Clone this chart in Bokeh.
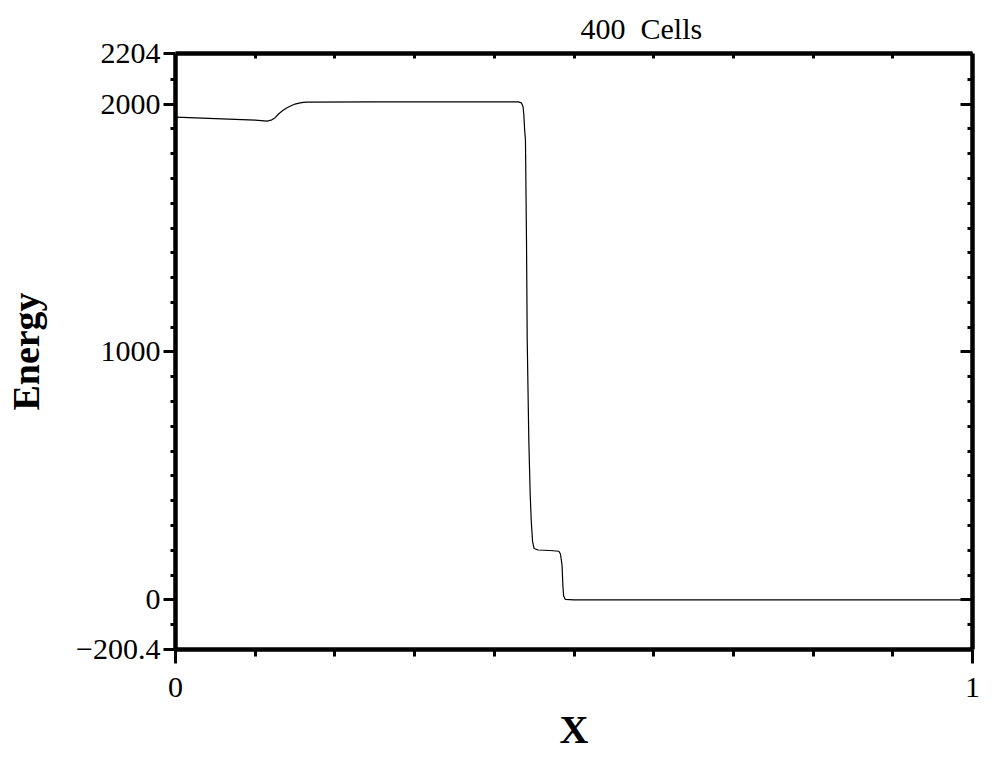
from bokeh.plotting import figure
from bokeh.models import Range1d, LinearAxis, FixedTicker, Title
from bokeh.embed import file_html
from bokeh.resources import INLINE

# Data (energy profile, 400 cells)
x_vals = [0.0, 0.05, 0.10, 0.115, 0.120, 0.125, 0.130, 0.135, 0.140, 0.145,
          0.150, 0.155, 0.160, 0.165, 0.25, 0.35, 0.430, 0.434, 0.436, 0.437,
          0.438, 0.4391, 0.4404, 0.4413, 0.4433, 0.4450, 0.4463, 0.4480, 0.4500,
          0.455, 0.470, 0.481, 0.483, 0.485, 0.486, 0.487, 0.489, 0.500, 0.75, 1.0]
energy = [1947, 1941, 1935, 1931, 1935, 1945, 1962, 1975, 1985, 1993,
          2000, 2004, 2007, 2008, 2009, 2009, 2009, 2005, 1990, 1960,
          1900, 1853, 1450, 1047, 645, 430, 322, 235, 207,
          201, 199, 196, 185, 140, 60, 15, 2, 0, 0, 0]

y_major = [-200.4, 0, 1000, 2000, 2204]
y_minor = [-100, 100, 200, 300, 400, 500, 600, 700, 800, 900, 1100, 1200, 1300,
           1400, 1500, 1600, 1700, 1800, 1900, 2100]
x_major = [0, 1]
x_minor = [0.1, 0.2, 0.3, 0.4, 0.5, 0.6, 0.7, 0.8, 0.9]

FONT = "Liberation Serif"

p = figure(frame_width=797, frame_height=596, output_backend="svg",
           toolbar_location=None, x_range=Range1d(0, 1),
           y_range=Range1d(-200.4, 2204), x_axis_location=None,
           y_axis_location=None, min_border_left=175, min_border_right=24,
           min_border_top=53, min_border_bottom=124)
p.grid.visible = False
p.outline_line_color = None
p.background_fill_color = "white"
p.border_fill_color = "white"

p.line(x_vals, energy, line_color="black", line_width=1.2)


def style(ax, tin, tout, mtin, mtout):
    ax.axis_line_width = 4.5
    ax.axis_line_color = "black"
    ax.major_tick_line_width = 3
    ax.minor_tick_line_width = 3
    ax.major_tick_in = tin
    ax.major_tick_out = tout
    ax.minor_tick_in = mtin
    ax.minor_tick_out = mtout
    ax.major_label_text_font = FONT
    ax.major_label_text_font_size = "30px"
    ax.major_label_text_color = "black"
    ax.axis_label_text_font = FONT
    ax.axis_label_text_font_style = "bold"
    ax.axis_label_text_color = "black"


left = LinearAxis(ticker=FixedTicker(ticks=y_major, minor_ticks=y_minor),
                  axis_label="Energy")
left.major_label_overrides = {-200.4: "\u2212200.4", 0: "0", 1000: "1000",
                              2000: "2000", 2204: "2204"}
style(left, 0, 12, 0, 5)
left.axis_label_text_font_size = "38px"
left.major_label_standoff = 3
left.axis_label_standoff = 26
p.add_layout(left, "left")

right = LinearAxis(ticker=FixedTicker(ticks=y_major, minor_ticks=y_minor))
style(right, 12, 0, 5, 0)
right.major_label_text_color = None
right.major_label_text_font_size = "1px"
p.add_layout(right, "right")

bottom = LinearAxis(ticker=FixedTicker(ticks=x_major, minor_ticks=x_minor),
                    axis_label="X")
style(bottom, 0, 14, 0, 7)
bottom.axis_label_text_font_size = "40px"
bottom.major_label_standoff = 14
bottom.axis_label_standoff = 7
p.add_layout(bottom, "below")

top = LinearAxis(ticker=FixedTicker(ticks=x_major, minor_ticks=x_minor))
style(top, 0, 0, 5, 0)
top.major_label_text_color = None
top.major_label_text_font_size = "1px"
p.add_layout(top, "above")

p.add_layout(Title(text="400\u00a0 Cells", align="left", offset=405,
                   text_font=FONT, text_font_size="30px",
                   text_font_style="normal", text_color="black",
                   standoff=17), "above")

open("out.html", "w").write(file_html(p, INLINE))
